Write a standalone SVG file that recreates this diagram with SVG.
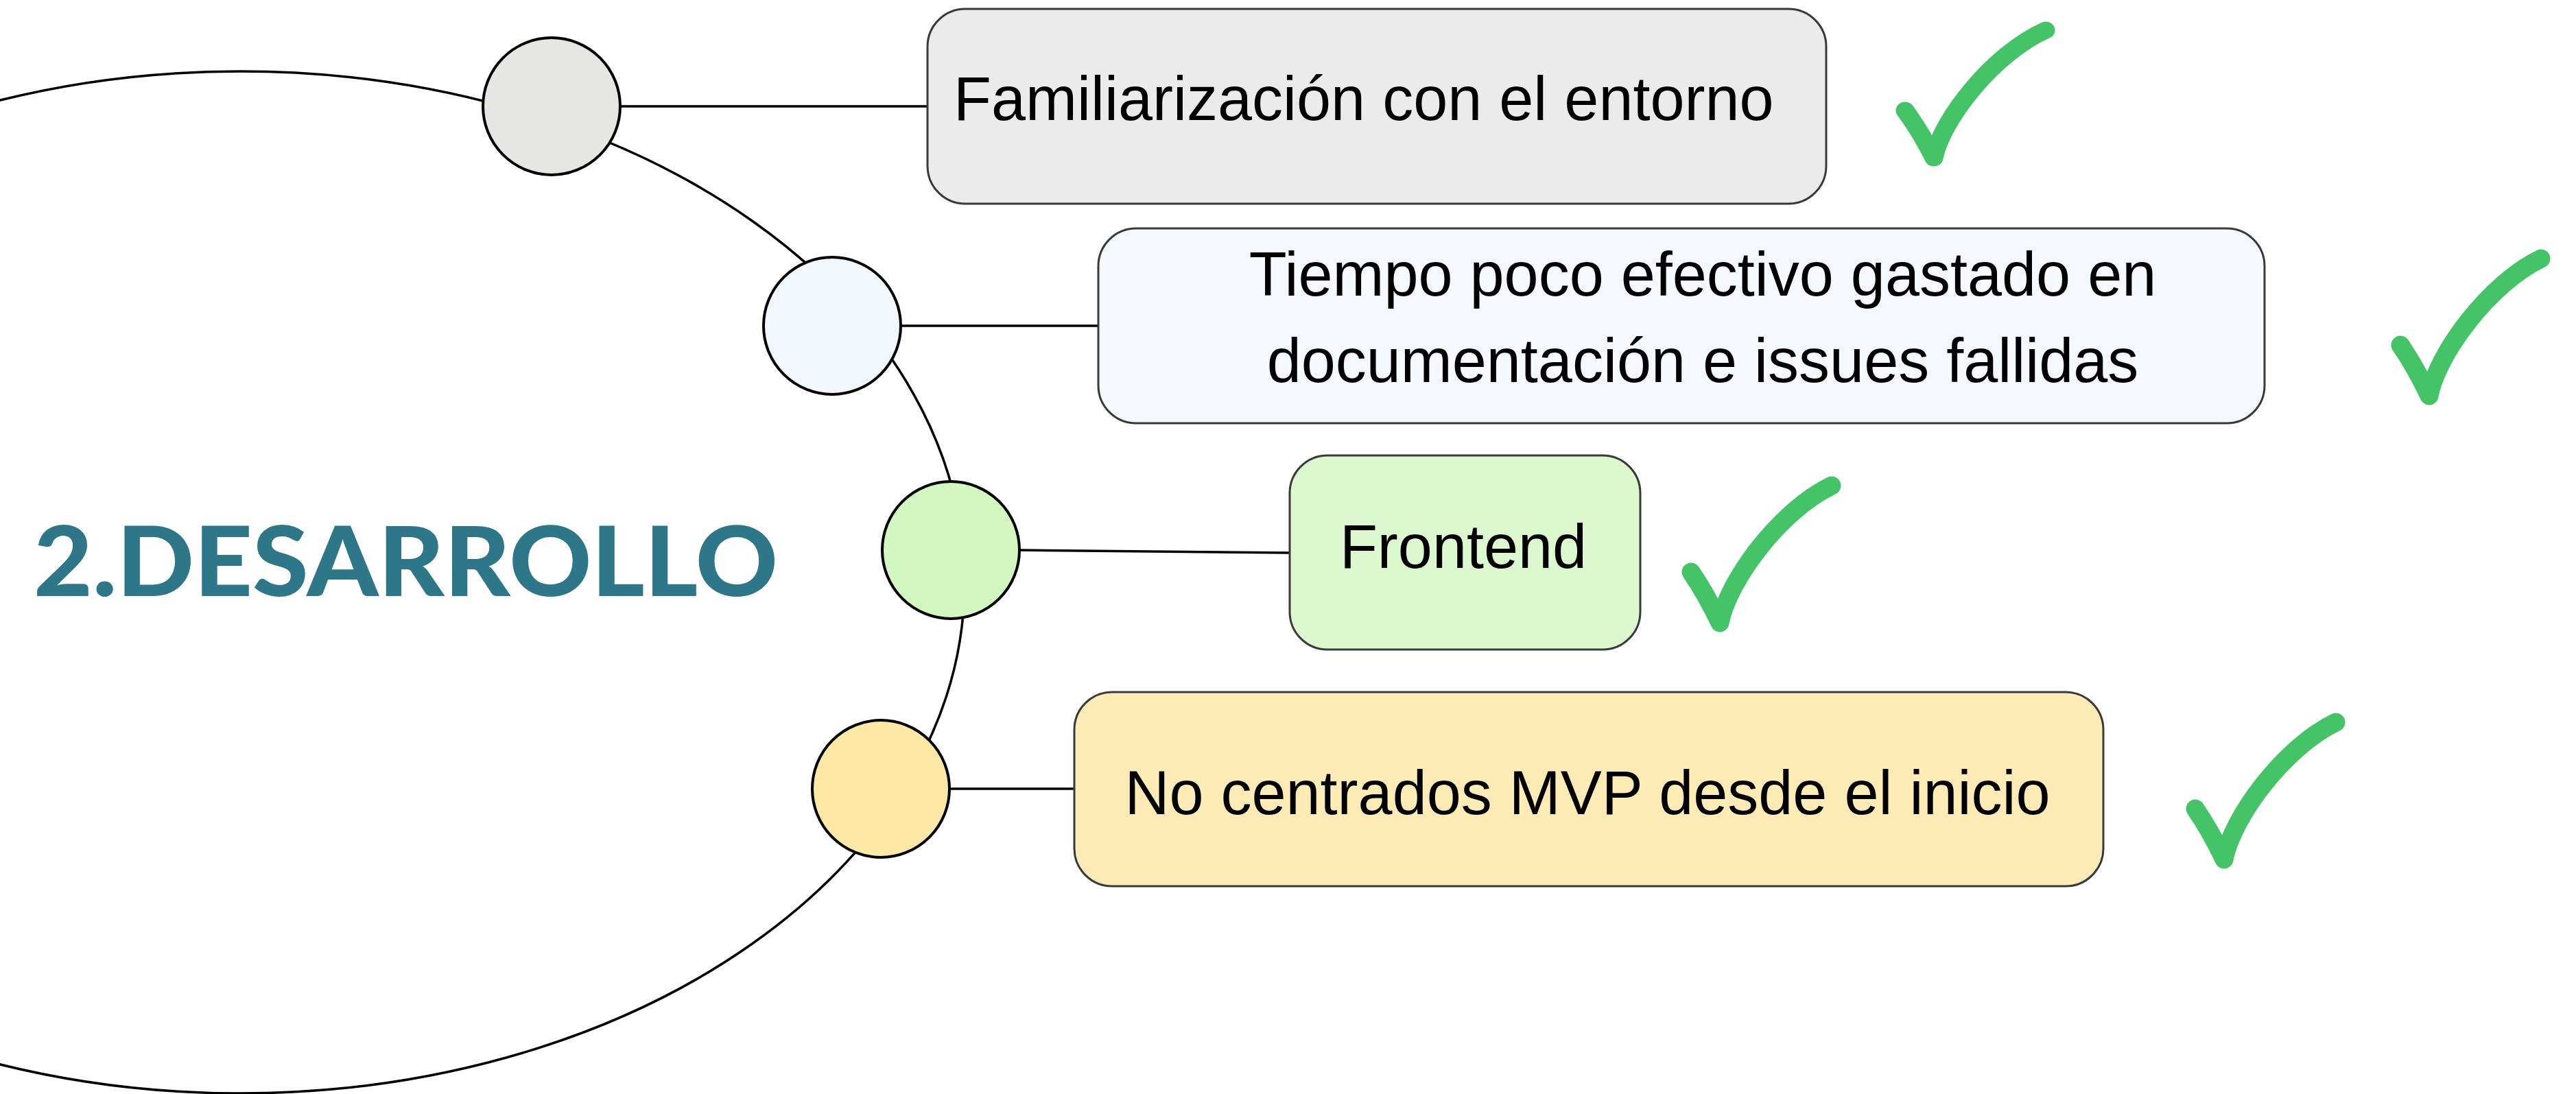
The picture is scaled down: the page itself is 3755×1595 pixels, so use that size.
<svg xmlns="http://www.w3.org/2000/svg" xmlns:xlink="http://www.w3.org/1999/xlink" width="3755" height="1595" viewBox="0 0 3755 1595">
<style>
.box{stroke:#3a3a3a;stroke-width:3}
.dot{stroke:#000;stroke-width:4}
.link{stroke:#000;stroke-width:3.5;fill:none}
.lbl{font-family:"Liberation Sans",Arial,sans-serif;font-size:90px;fill:#000}
.chk{fill:none;stroke:#45C467;stroke-width:27;stroke-linecap:round;stroke-linejoin:round}
.title{font-family:Lato,"DejaVu Sans",sans-serif;font-weight:900;font-size:142px;fill:#2D7788}
</style>
<defs>
<path id="check" class="chk" d="M-42,-74 Q-20,-42 0,0 C12,-62 88,-164 163,-200"/>
</defs>
<rect width="3755" height="1595" fill="#fff"/>
<g id="central">
<ellipse cx="350" cy="849" rx="1056" ry="745" fill="none" stroke="#000" stroke-width="3.5"/>
<text class="title" x="49" y="869" textLength="1085" lengthAdjust="spacingAndGlyphs">2.DESARROLLO</text>
</g>
<g id="connectors">
<line class="link" x1="904" y1="155" x2="1352" y2="155"/>
<line class="link" x1="1313" y1="475" x2="1601" y2="475"/>
<line class="link" x1="1486" y1="802" x2="1880" y2="806"/>
<line class="link" x1="1384" y1="1150" x2="1566" y2="1150"/>
</g>
<g id="dot1"><circle class="dot" cx="804" cy="155" r="100" fill="#E6E6E4"/></g>
<g id="dot2"><circle class="dot" cx="1213" cy="475" r="100" fill="#F2F7FE"/></g>
<g id="dot3"><circle class="dot" cx="1386" cy="802" r="100" fill="#D3F7C0"/></g>
<g id="dot4"><circle class="dot" cx="1284" cy="1150" r="100" fill="#FDE8A5"/></g>
<g id="node1">
<rect class="box" x="1352" y="13" width="1310" height="284" rx="55" ry="55" fill="#EBEBEB"/>
<text class="lbl" x="1390" y="175">Familiarización con el entorno</text>
</g>
<g id="node2">
<rect class="box" x="1601" y="333" width="1700" height="284" rx="55" ry="55" fill="#F5F8FE"/>
<text class="lbl" x="2482" y="431" text-anchor="middle">Tiempo poco efectivo gastado en</text>
<text class="lbl" x="2482" y="557" text-anchor="middle">documentación e issues fallidas</text>
</g>
<g id="node3">
<rect class="box" x="1880" y="664" width="511" height="283" rx="55" ry="55" fill="#DCF8CF"/>
<text class="lbl" x="2133" y="828" text-anchor="middle">Frontend</text>
</g>
<g id="node4">
<rect class="box" x="1566" y="1009" width="1500" height="283" rx="55" ry="55" fill="#FEEBB5"/>
<text class="lbl" x="2314" y="1187" text-anchor="middle">No centrados MVP desde el inicio</text>
</g>
<g id="checks">
<use xlink:href="#check" href="#check" transform="translate(2819,230) scale(1,0.93)"/>
<use xlink:href="#check" href="#check" transform="translate(3541,577)"/>
<use xlink:href="#check" href="#check" transform="translate(2507,908)"/>
<use xlink:href="#check" href="#check" transform="translate(3242,1253)"/>
</g>
</svg>
